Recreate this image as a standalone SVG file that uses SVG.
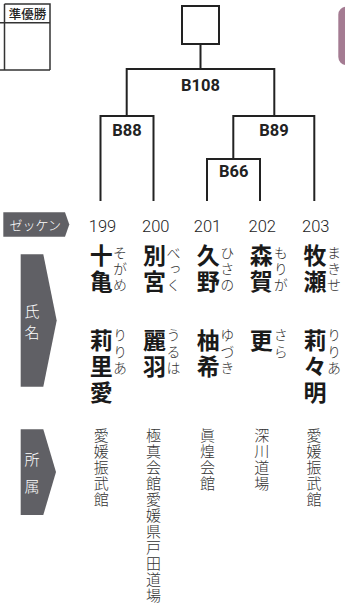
<svg xmlns="http://www.w3.org/2000/svg" width="345" height="608" viewBox="0 0 345 608">
<style>
.ln{fill:none;stroke:#222;stroke-width:2}
.tl{fill:none;stroke:#333;stroke-width:1.5}
.lbl{font-family:Roboto,"Liberation Sans",sans-serif;font-weight:700;font-size:16.5px;fill:#222;text-anchor:middle}
.num{font-family:Roboto,"Liberation Sans",sans-serif;font-weight:300;font-size:16.5px;fill:#222;text-anchor:middle}
.kj{font-family:"Noto Sans CJK JP",sans-serif;font-weight:700;font-size:23px;fill:#1a1a1a;writing-mode:vertical-rl;letter-spacing:3px}
.kn{font-family:"Noto Sans CJK JP",sans-serif;font-weight:300;font-size:14px;fill:#333;writing-mode:vertical-rl;letter-spacing:2.3px}
.af{font-family:"Noto Sans CJK JP",sans-serif;font-weight:300;font-size:15px;fill:#333;writing-mode:vertical-rl;letter-spacing:1px}
.tag{fill:#606065}
.tt{font-family:"Noto Sans CJK JP",sans-serif;font-weight:300;fill:#fff;text-anchor:middle}
</style>
<g id="header-table">
<path class="tl" d="M4.5,4 H50 V70 M4.5,4 V70 M0,22.7 H50 M0,70 H50"/>
<text x="27.5" y="18.6" font-family="'Noto Sans CJK JP',sans-serif" font-weight="500" font-size="12.5" fill="#222" text-anchor="middle">準優勝</text>
</g>
<g id="side-tab"><rect x="338.3" y="6.7" width="20" height="58.3" rx="8" fill="#a47b92"/></g>
<g id="winner-box"><rect x="182" y="6" width="37" height="38" fill="#fff" stroke="#222" stroke-width="2"/></g>
<g id="connectors">
<path class="ln" d="M200.5,44 V69 M126.7,116 V69 H274.3 V116"/>
<path class="ln" d="M100.5,201 V116 H153.5 V201"/>
<path class="ln" d="M233.3,159 V116 H314.3 V201"/>
<path class="ln" d="M207,201 V159 H260 V201"/>
</g>
<g id="match-labels">
<text class="lbl" x="200.5" y="90.5">B108</text>
<text class="lbl" x="127" y="135.5">B88</text>
<text class="lbl" x="274" y="135.5">B89</text>
<text class="lbl" x="233.7" y="176.5">B66</text>
</g>
<g id="tag-zekken">
<path class="tag" d="M3.3,212.3 H65 L69.3,224.5 L65,236.7 H3.3 Z"/>
<text class="tt" x="35.2" y="229.9" font-size="13">ゼッケン</text>
</g>
<g id="tag-name">
<path class="tag" d="M20.7,254.3 H43.3 L56.7,320.5 L43.3,386.7 H20.7 Z"/>
<text class="tt" x="32" y="317.4" font-size="15">氏</text>
<text class="tt" x="32" y="338.2" font-size="15">名</text>
</g>
<g id="tag-affil">
<path class="tag" d="M20.7,429.3 H43.3 L56,472 L43.3,515 H20.7 Z"/>
<text class="tt" x="32" y="464.7" font-size="15">所</text>
<text class="tt" x="32" y="491.5" font-size="15">属</text>
</g>
<g id="p199">
<text class="num" x="102.5" y="231.5">199</text>
<text class="kj" x="101.2" y="243.5">十亀</text>
<text class="kn" x="120" y="245.5">そがめ</text>
<text class="kj" x="101.2" y="328.5">莉里愛</text>
<text class="kn" x="120" y="328">りりあ</text>
<text class="af" x="101.3" y="427.5">愛媛振武館</text>
</g>
<g id="p200">
<text class="num" x="155.8" y="231.5">200</text>
<text class="kj" x="154.5" y="243.5">別宮</text>
<text class="kn" x="173.5" y="245.5">べっく</text>
<text class="kj" x="154.5" y="328.5">麗羽</text>
<text class="kn" x="173.5" y="328">うるは</text>
<text class="af" x="153.5" y="427.5">極真会館愛媛県戸田道場</text>
</g>
<g id="p201">
<text class="num" x="207.5" y="231.5">201</text>
<text class="kj" x="208.3" y="243.5">久野</text>
<text class="kn" x="227.3" y="245.5">ひさの</text>
<text class="kj" x="208.3" y="328.5">柚希</text>
<text class="kn" x="227.3" y="328">ゆづき</text>
<text class="af" x="207.5" y="427.5">眞煌会館</text>
</g>
<g id="p202">
<text class="num" x="262.3" y="231.5">202</text>
<text class="kj" x="261.3" y="243.5">森賀</text>
<text class="kn" x="280.8" y="245.5">もりが</text>
<text class="kj" x="261.3" y="328.5">更</text>
<text class="kn" x="280.8" y="328">さら</text>
<text class="af" x="261.7" y="427.5">深川道場</text>
</g>
<g id="p203">
<text class="num" x="315.8" y="231.5">203</text>
<text class="kj" x="315" y="243.5">牧瀬</text>
<text class="kn" x="334" y="245.5">まきせ</text>
<text class="kj" x="315" y="328.5">莉々明</text>
<text class="kn" x="334" y="328">りりあ</text>
<text class="af" x="314" y="427.5">愛媛振武館</text>
</g>
</svg>
